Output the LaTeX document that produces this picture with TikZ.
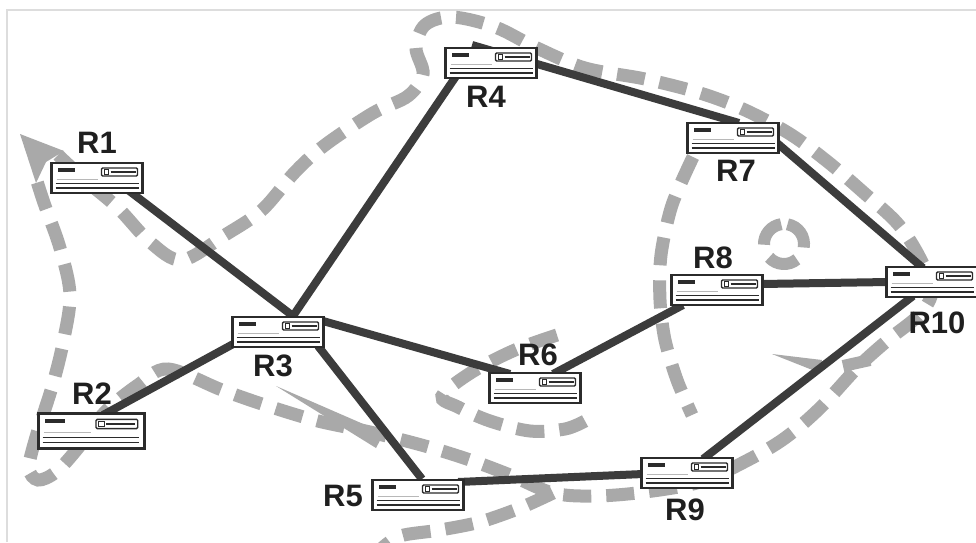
\documentclass[tikz,border=0pt]{standalone}
\usepackage{fontspec}
\setmainfont{Liberation Sans}
\usetikzlibrary{calc}

\definecolor{rdark}{HTML}{2B2B2B}
\definecolor{linkc}{HTML}{3C3C3C}
\definecolor{fishc}{HTML}{A9A9A9}
\definecolor{rlight}{HTML}{B8B8B8}
\definecolor{framec}{HTML}{DDDDDD}

\pgfdeclarelayer{paper}
\pgfdeclarelayer{fishlayer}
\pgfdeclarelayer{linklayer}
\pgfsetlayers{paper,fishlayer,linklayer,main}

\tikzset{
  router/.style={rectangle, draw=rdark, line width=2.2pt, fill=white,
    minimum width=91pt, minimum height=30pt, inner sep=0pt, outer sep=0pt},
  bigrouter/.style={router, line width=3pt, minimum width=106pt, minimum height=35pt},
  tag/.style={font=\fontsize{31}{31}\selectfont\bfseries, text=black!88, inner sep=0pt},
  link/.style={draw=linkc, line width=8pt},
  fish/.style={draw=fishc, line width=13pt, dash pattern=on 28pt off 15pt},
  fishsolid/.style={draw=fishc, line width=12pt},
}

% front panel of a router box, drawn from the box's top-left corner
\newcommand\routerface[2]{%
  \begin{scope}[shift={(#1.north west)}, scale=#2]
    \fill[rdark] (6,5) rectangle (23,8.5);
    \draw[rdark, line width=1.4pt, rounded corners=1.2pt, fill=white] (50,5) rectangle (86,13);
    \draw[rdark, line width=0.9pt, fill=white] (52.5,6.5) rectangle (57,11.5);
    \draw[rdark, line width=2pt] (59,9) -- (84,9);
    \draw[rlight, line width=1pt] (5,16.5) -- (46,16.5);
    \draw[rdark, line width=1.3pt] (4,20.5) -- (87,20.5);
    \draw[rdark, line width=1.3pt] (4,25) -- (87,25);
  \end{scope}}

\begin{document}
\begin{tikzpicture}[x=1pt, y=-1pt]
\useasboundingbox (0,0) rectangle (976,542);
\begin{pgfonlayer}{paper}
  \fill[white] (0,0) rectangle (976,542);
  \draw[framec, line width=1.5pt] (7,542) -- (7,10) -- (976,10);
\end{pgfonlayer}

% routers
\node[router]    (R1)  at (97,178)  {};
\node[bigrouter] (R2)  at (91,431)  {};
\node[router]    (R3)  at (278,332) {};
\node[router]    (R4)  at (491,63)  {};
\node[router]    (R5)  at (418,495) {};
\node[router]    (R6)  at (535,388) {};
\node[router]    (R7)  at (733,138) {};
\node[router]    (R8)  at (717,290) {};
\node[router]    (R9)  at (687,473) {};
\node[router]    (R10) at (932,282) {};

\foreach \r in {R1,R3,R4,R5,R6,R7,R8,R9,R10} {\routerface{\r}{1}}
\routerface{R2}{1.16}

% labels
\node[tag] (tR1)  at (97,143)  {R1};
\node[tag] (tR2)  at (92,394)  {R2};
\node[tag] (tR3)  at (273,366) {R3};
\node[tag] (tR4)  at (486,97)  {R4};
\node[tag] (tR5)  at (343,496) {R5};
\node[tag] (tR6)  at (538,355) {R6};
\node[tag] (tR7)  at (736,171) {R7};
\node[tag] (tR8)  at (713,258) {R8};
\node[tag] (tR9)  at (685,510) {R9};
\node[tag] (tR10) at (937,323) {R10};

% links
\begin{pgfonlayer}{linklayer}
  \draw[link] ([shift={(31,12)}]R1.center)  -- ([shift={(15,-16)}]R3.center);
  \draw[link] ([shift={(12,-16)}]R2.center) -- ([shift={(-43,11)}]R3.center);
  \draw[link] ([shift={(15,-16)}]R3.center) -- ([shift={(-26,0)}]R4.center);
  \draw[link] ([shift={(45,-11)}]R3.center) -- ([shift={(-25,-14)}]R6.center);
  \draw[link] ([shift={(40,14)}]R3.center)  -- ([shift={(4,-16)}]R5.center);
  \draw[link] ([shift={(-19,-18)}]R4.center) -- ([shift={(6,-15)}]R7.center);
  \draw[link] ([shift={(44,5)}]R7.center)   -- ([shift={(-9,-14)}]R10.center);
  \draw[link] ([shift={(44,-6)}]R8.center)  -- ([shift={(-44,0)}]R10.center);
  \draw[link] ([shift={(18,-14)}]R6.center) -- ([shift={(-34,15)}]R8.center);
  \draw[link] ([shift={(40,-13)}]R5.center) -- ([shift={(-44,1)}]R9.center);
  \draw[link] ([shift={(16,-14)}]R9.center) -- ([shift={(-19,14)}]R10.center);
\end{pgfonlayer}

% fish outline
\begin{pgfonlayer}{fishlayer}
  \begin{scope}
  \clip (0,0) rectangle (976,542);
  \draw[fish] plot[smooth, tension=0.55] coordinates {
    (58,155) (85,180) (118,208) (150,242) (182,260) (225,235) (262,210)
    (295,172) (325,145) (373,113) (408,96) (423,74) (416,48) (425,25)
    (452,17) (495,27) (537,48) (585,68) (645,79) (700,93) (745,110)
    (790,134) (828,162) (863,192) (898,224) (920,258) (932,290) (920,314)
    (888,340) (858,367) (820,408) (785,438) (748,460) (700,482) (645,492)
    (595,496) (553,493) (510,475) (470,460) (425,446) (370,432) (318,421)
    (268,406) (222,390) (168,369) (138,385) (105,412) (78,448) (56,472)
    (38,480) (29,468) (36,437) (52,387) (63,343) (70,295) (60,248)
    (44,203) (35,175)};
  % tail tip
  \fill[fishc] (20,134) -- (64,151) -- (46,162) -- (36,183) -- cycle;
  % lower fin
  \draw[fish] plot[smooth] coordinates {(553,493) (520,508) (480,522) (440,530) (400,536) (380,550)};
  % side fin
  \fill[fishc] (276,386) -- (384,433) -- (376,448) -- cycle;
  % gill
  \draw[fish] plot[smooth, tension=0.55] coordinates {
    (557,335) (515,350) (472,372) (442,396) (458,407) (490,421) (530,431) (565,429) (585,421)};
  % head line
  \draw[fish] plot[smooth] coordinates {
    (693,157) (672,205) (661,255) (660,300) (665,340) (677,380) (692,415)};
  % eye
  \coordinate (eye) at (784,244);
  \draw[fishsolid] ([shift={(178:20)}]eye) arc[start angle=178, end angle=262, radius=20];
  \draw[fishsolid] ([shift={(280:20)}]eye) arc[start angle=280, end angle=370, radius=20];
  \draw[fishsolid] ([shift={(50:20)}]eye) arc[start angle=50, end angle=138, radius=20];
  % mouth
  \fill[fishc] (772,354) -- (822,360) -- (820,373) -- cycle;
  \draw[fishsolid] (843,366) -- (870,360);
  \end{scope}
\end{pgfonlayer}
\end{tikzpicture}
\end{document}
